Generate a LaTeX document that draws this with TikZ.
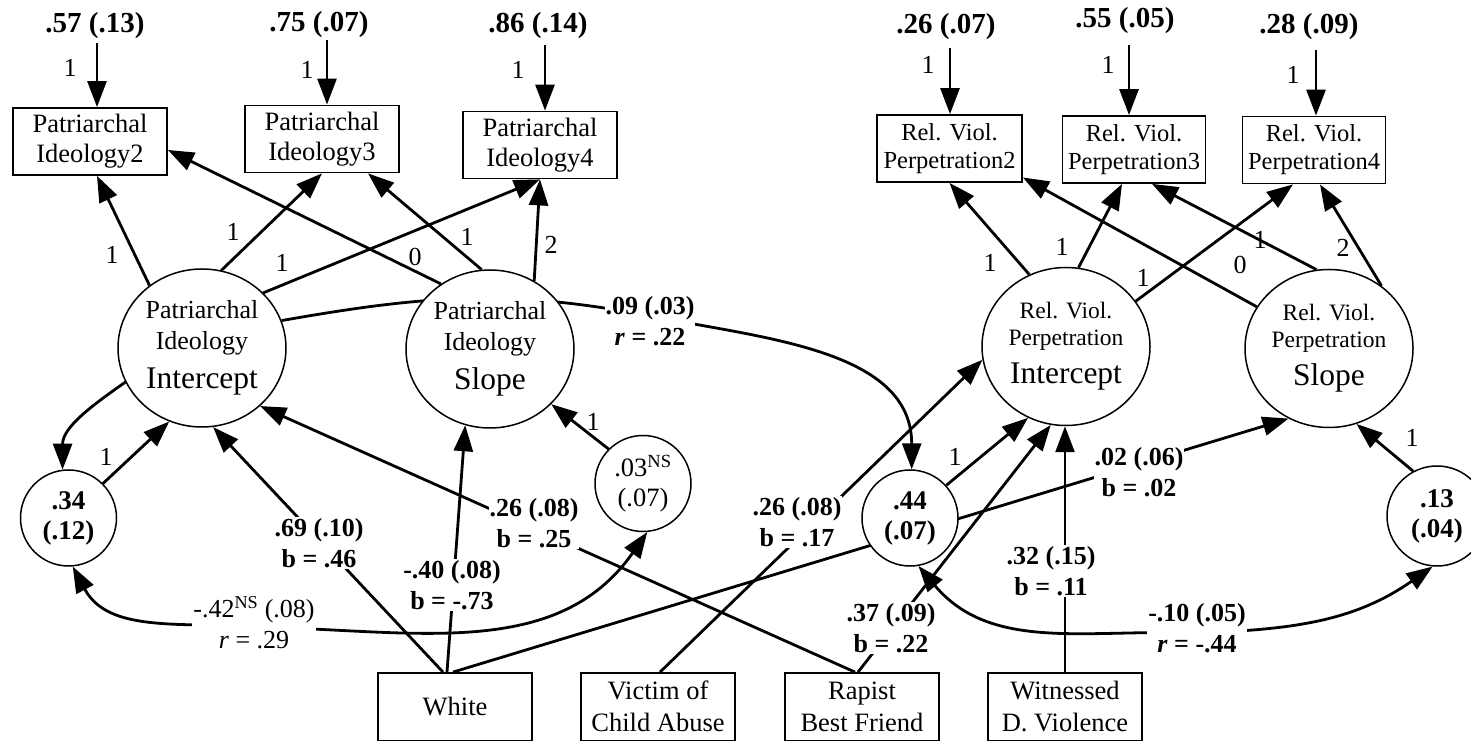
\documentclass[tikz,border=0pt]{standalone}
\usepackage{fontspec}
\setmainfont{Liberation Serif}
\usetikzlibrary{arrows.meta,shapes.geometric}
\pgfdeclarelayer{bg}
\pgfsetlayers{bg,main}
\begin{document}
\begin{tikzpicture}[x=1pt,y=1pt,
  every node/.style={inner sep=0pt},
  obs/.style={draw, line width=1.8pt, minimum width=154pt, minimum height=67pt,
    align=center, font=\fontsize{26.5}{30}\selectfont},
  obsr/.style={obs, minimum width=143pt, font=\fontsize{24.5}{28}\selectfont},
  pred/.style={obs, minimum height=67.5pt, font=\fontsize{26.5}{32}\selectfont},
  latent/.style={ellipse, draw, line width=1.5pt, fill=white,
    minimum width=168pt, minimum height=158pt, align=center},
  pifont/.style={font=\fontsize{26}{31}\selectfont},
  rvfont/.style={font=\fontsize{23.5}{27}\selectfont},
  resid/.style={circle, draw, line width=1.5pt, fill=white, minimum size=96pt,
    align=center, font=\bfseries\fontsize{27}{30}\selectfont},
  est/.style={fill=white, inner sep=1pt, align=center,
    font=\bfseries\fontsize{26}{31}\selectfont},
  errv/.style={font=\bfseries\fontsize{29}{33}\selectfont},
  wt/.style={font=\fontsize{26}{30}\selectfont},
  reg/.style={line width=2.8pt, -{Triangle[length=26pt,width=19pt]}},
  cov/.style={line width=2.8pt, {Triangle[length=26pt,width=19pt]}-{Triangle[length=26pt,width=19pt]}},
  link/.style={line width=2.8pt}]
\useasboundingbox (0,0) rectangle (1471,741);

% ---------- observed indicators ----------
\node[obs] (PI2) at (90,599.5) {Patriarchal\\Ideology2};
\node[obs] (PI3) at (322,602) {Patriarchal\\Ideology3};
\node[obs] (PI4) at (540,596) {Patriarchal\\Ideology4};
\node[obsr, minimum width=145pt] (RV2) at (949.5,592.5) {Rel. Viol.\\Perpetration2};
\node[obsr] (RV3) at (1134,591.5) {Rel. Viol.\\Perpetration3};
\node[obsr] (RV4) at (1314,591) {Rel. Viol.\\Perpetration4};

% ---------- error variances of the indicators ----------
\node[errv] (u2) at (95,715) {.57 (.13)};
\node[errv] (u3) at (319,716) {.75 (.07)};
\node[errv] (u4) at (538,715) {.86 (.14)};
\node[errv] (v2) at (946,714) {.26 (.07)};
\node[errv] (v3) at (1125,720) {.55 (.05)};
\node[errv] (v4) at (1309,714) {.28 (.09)};
\coordinate (a2) at (97,698);
\coordinate (a3) at (327,701);
\coordinate (a4) at (545,696);
\coordinate (b2) at (950,693);
\coordinate (b3) at (1129,696);
\coordinate (b4) at (1316,691);
\node[wt] at (70,673) {1};
\node[wt] at (307,671) {1};
\node[wt] at (518,671) {1};
\node[wt] at (928,676) {1};
\node[wt] at (1108,676) {1};
\node[wt] at (1293,666) {1};

% ---------- growth factors ----------
\node[latent, pifont] (PI) at (202,393) {Patriarchal\\Ideology\\[8pt]{\fontsize{31.5}{38}\selectfont Intercept}};
\node[latent, pifont] (PS) at (490,392) {Patriarchal\\Ideology\\[8pt]{\fontsize{31.5}{38}\selectfont Slope}};
\node[latent, rvfont] (RI) at (1066,394.5) {Rel. Viol.\\Perpetration\\[11pt]{\fontsize{31.5}{38}\selectfont Intercept}};
\node[latent, rvfont] (RS) at (1329,392.5) {Rel. Viol.\\Perpetration\\[11pt]{\fontsize{31.5}{38}\selectfont Slope}};

% ---------- disturbances ----------
\node[resid] (d34) at (68.5,223) {.34\\(.12)};
\node[resid, font=\fontsize{26.5}{30}\selectfont] (d03) at (643,257.5) {.03\textsuperscript{NS}\\(.07)};
\node[resid] (d44) at (910,223) {.44\\(.07)};
\node[resid, minimum size=100pt] (d13) at (1437,225) {.13\\(.04)};

% ---------- predictors ----------
\node[pred] (W) at (455,34.25) {White};
\node[pred] (V) at (658,34.25) {Victim of\\Child Abuse};
\node[pred] (R) at (862,34.25) {Rapist\\Best Friend};
\node[pred] (D) at (1065,34.25) {Witnessed\\D. Violence};

% ---------- loadings ----------
\node[wt] at (112,486) {1};
\node[wt] at (233,509) {1};
\node[wt] at (282,478) {1};
\node[wt] at (415,484) {0};
\node[wt] at (467,504) {1};
\node[wt] at (551,496) {2};
\node[wt] at (990,478) {1};
\node[wt] at (1062,494) {1};
\node[wt] at (1143,463) {1};
\node[wt] at (1240,476) {0};
\node[wt] at (1260,501) {1};
\node[wt] at (1343,493) {2};
\node[wt] at (106,284) {1};
\node[wt] at (593,319) {1};
\node[wt] at (955,284) {1};
\node[wt] at (1412,303) {1};

% ---------- path estimates ----------
\coordinate (c09) at (650,425);
\coordinate (c42) at (255,114);
\coordinate (c10) at (1197,108);
\node[est] (e69) at (319,198) {.69 (.10)\\b = .46};
\node[est] (e40) at (452,156) {-.40 (.08)\\b = -.73};
\node[est] (e25) at (534,218) {.26 (.08)\\b = .25};
\node[est] (e17) at (797,219) {.26 (.08)\\b = .17};
\node[est] (e37) at (891,113) {.37 (.09)\\b = .22};
\node[est] (e32) at (1051,170) {.32 (.15)\\b = .11};
\node[est] (e02) at (1139,269) {.02 (.06)\\b = .02};
\node[est] (e10) at (1197,113) {-.10 (.05)\\\textit{r} = -.44};
\node[est] (e09) at (650,420) {.09 (.03)\\\textit{r} = .22};
\node[est, font=\fontsize{26}{31}\selectfont] (e42) at (254,118) {-.42\textsuperscript{NS} (.08)\\\textit{r} = .29};

\begin{pgfonlayer}{bg}
  % error arrows into the indicators
  \draw[reg] (a2) -- (a2 |- PI2.north);
  \draw[reg] (a3) -- (a3 |- PI3.north);
  \draw[reg] (a4) -- (a4 |- PI4.north);
  \draw[reg] (b2) -- (b2 |- RV2.north);
  \draw[reg] (b3) -- (b3 |- RV3.north);
  \draw[reg] (b4) -- (b4 |- RV4.north);
  % factor loadings
  \draw[reg] (PI.130) -- ([xshift=7pt]PI2.south);
  \draw[reg] (PI.76) -- (PI3.south);
  \draw[reg] (PI.42) -- (PI4.south);
  \draw[reg] (PS.127) -- ([yshift=-8.5pt]PI2.east);
  \draw[reg] (PS.96) -- ([xshift=46pt]PI3.south);
  \draw[reg] (PS.57) -- (PI4.south);
  \draw[reg] (RI.117) -- (RV2.south);
  \draw[reg] (RI.81) -- ([xshift=-12pt]RV3.south);
  \draw[reg] (RI.33) -- ([xshift=-21pt]RV4.south);
  \draw[reg] (RS.150) -- ([yshift=-29pt]RV2.east);
  \draw[reg] (RS.99) -- ([xshift=18pt]RV3.south);
  \draw[reg] (RS.50) -- ([xshift=6pt]RV4.south);
  % disturbances
  \draw[reg] (d34.45) -- (PI.246);
  \draw[reg] (PI.204) to[out=215,in=90] (d34.97);
  \draw[reg] (d03.135) -- (PS.318);
  \draw[reg] (d44.42) -- (RI.242);
  \draw[reg] (d13.118) -- (RS.290);
  % predictors
  \draw[reg] ([xshift=-12pt]W.north) -- (PI.278);
  \draw[reg] ([xshift=-8pt]W.north) -- (PS.252);
  \draw[reg] ([xshift=-2pt]W.north) -- (RS.240);
  \draw[reg] ([xshift=2pt]V.north) -- (RI.189);
  \draw[reg] ([xshift=-7pt]R.north) -- (PI.315);
  \draw[reg] ([xshift=-4pt]R.north) -- (RI.259);
  \draw[reg] (D.north) -- (D.north |- RI.south);
  % covariances
  \draw[reg] (PI.19) to[out=10,in=169] (c09) to[out=-11,in=90] (d44.88);
  \draw[cov] (d34.275) to[out=-62,in=176] (c42) to[out=-1,in=235] (d03.275);
  \draw[cov] (d44.280) to[out=-50,in=178] (c10) to[out=2,in=215] (d13.265);
\end{pgfonlayer}
\end{tikzpicture}
\end{document}
